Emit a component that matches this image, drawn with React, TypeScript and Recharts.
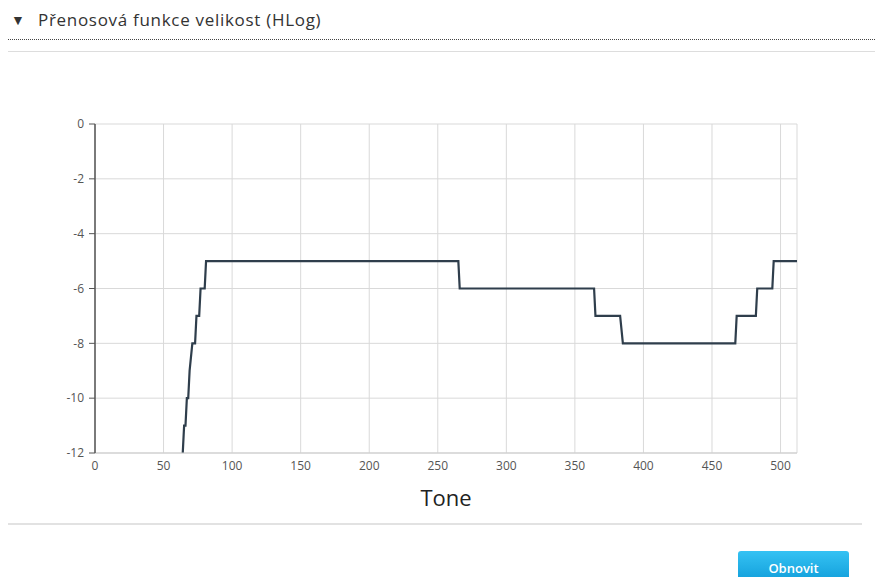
import { LineChart, Line, XAxis, YAxis, CartesianGrid } from 'recharts'

// HLog corner points (tone index -> dB)
const tones = [64, 65, 66, 67, 68, 69, 71, 73, 74, 76, 77, 80, 81, 265, 266, 364, 365, 383, 385, 467, 468, 482, 483, 494, 495, 512]
const hlog = [-12, -11, -11, -10, -10, -9, -8, -8, -7, -7, -6, -6, -5, -5, -6, -6, -7, -7, -8, -8, -7, -7, -6, -6, -5, -5]

const xTicks = [0, 50, 100, 150, 200, 250, 300, 350, 400, 450, 500]
const yTicks = [0, -2, -4, -6, -8, -10, -12]

const title = 'Přenosová funkce velikost (HLog)'
const axisLabel = 'Tone'
const buttonText = 'Obnovit'

const data = tones.map((t, i) => ({ tone: t, hlog: hlog[i] }))

const tickStyle = { fill: '#555', fontSize: 12, fontFamily: 'Open Sans' }

export default function App() {
  return (
    <div style={{ position: 'absolute', left: 0, top: 0, width: 875, height: 577, background: '#fff', overflow: 'hidden', fontFamily: 'Open Sans' }}>
      {/* header */}
      <div style={{ position: 'absolute', left: 11, top: 10, fontSize: 14, color: '#333' }}>▼</div>
      <div style={{ position: 'absolute', left: 38, top: 8, fontSize: 17, letterSpacing: 0.7, color: '#333' }}>{title}</div>
      <div style={{ position: 'absolute', left: 8, top: 39, width: 867, borderBottom: '1px dotted #444' }} />
      <div style={{ position: 'absolute', left: 8, top: 51, width: 867, borderBottom: '1px solid #ddd' }} />

      <div style={{ position: 'absolute', left: 0, top: 0 }}>
        <LineChart width={875} height={577} data={data} margin={{ top: 124, right: 78, bottom: 64, left: 35 }}>
          <CartesianGrid stroke="#d9d9d9" strokeWidth={1} />
          <XAxis
            dataKey="tone"
            type="number"
            domain={[0, 512]}
            ticks={xTicks}
            allowDataOverflow
            height={60}
            tick={tickStyle}
            tickLine={false}
            tickSize={6}
            tickMargin={2}
            axisLine={{ stroke: '#ccc' }}
            label={{ value: axisLabel, position: 'insideBottom', offset: 7, style: { fontSize: 22, fill: '#222', fontFamily: 'Open Sans' } }}
          />
          <XAxis
            xAxisId="top"
            dataKey="tone"
            type="number"
            orientation="top"
            domain={[0, 512]}
            ticks={xTicks}
            allowDataOverflow
            height={0}
            mirror
            tick={false}
            tickSize={3}
            tickLine={{ stroke: '#555' }}
            axisLine={{ stroke: '#555', strokeWidth: 1.5 }}
          />
          <YAxis
            type="number"
            domain={[-12, 0]}
            ticks={yTicks}
            width={60}
            tick={tickStyle}
            tickSize={6}
            tickMargin={5}
            tickLine={{ stroke: '#555' }}
            axisLine={{ stroke: '#555', strokeWidth: 1.5 }}
          />
          <Line
            type="linear"
            dataKey="hlog"
            stroke="#2f3e4c"
            strokeWidth={2.2}
            dot={false}
            isAnimationActive={false}
          />
        </LineChart>
      </div>

      <div style={{ position: 'absolute', left: 8, top: 523, width: 854, borderBottom: '2px solid #e2e2e2' }} />
      <div
        style={{
          position: 'absolute', left: 738, top: 551, width: 111, height: 30, borderRadius: 3,
          background: 'linear-gradient(#35c2f3, #129fdb)', color: '#fff', fontSize: 13, fontWeight: 600,
          textAlign: 'center', lineHeight: '34px',
        }}
      >
        {buttonText}
      </div>
    </div>
  )
}
